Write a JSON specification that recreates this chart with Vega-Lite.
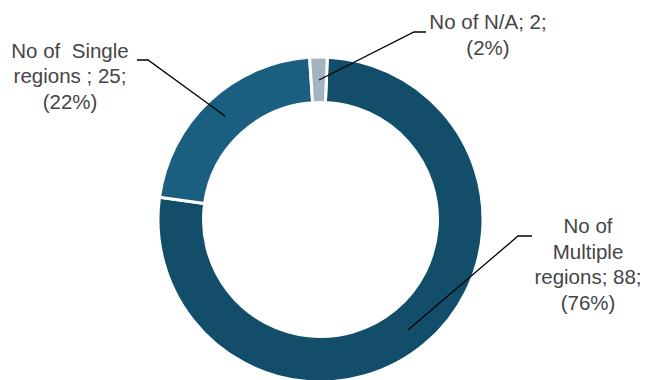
{
  "$schema": "https://vega.github.io/schema/vega-lite/v6.json",
  "width": 646,
  "height": 380,
  "autosize": {"type": "none"},
  "padding": 0,
  "background": "white",
  "config": {"view": {"stroke": null}},
  "layer": [
    {
      "data": {"values": [
        {"category": "Multiple", "value": 88, "rank": 1},
        {"category": "Single", "value": 25, "rank": 2},
        {"category": "N/A", "value": 2, "rank": 3}
      ]},
      "mark": {"type": "arc", "outerRadius": 162.5, "innerRadius": 117, "stroke": "white", "strokeWidth": 3},
      "encoding": {
        "x": {"datum": 0, "type": "quantitative", "scale": {"domain": [-1.9723, 2.0031], "nice": false, "zero": false}, "axis": null},
        "y": {"datum": 0, "type": "quantitative", "scale": {"domain": [-0.9877, 1.3508], "nice": false, "zero": false}, "axis": null},
        "theta": {"field": "value", "type": "quantitative", "stack": true, "scale": {"range": [0.042, 6.3252]}},
        "order": {"field": "rank", "type": "quantitative"},
        "color": {"field": "category", "type": "nominal", "legend": null,
          "scale": {"domain": ["Multiple", "Single", "N/A"], "range": ["#124e69", "#1a5f80", "#a3b3c1"]}}
      }
    },
    {
      "data": {"values": [
        {"category": "Single", "step": 1, "lx": -1.1292, "ly": 0.9815},
        {"category": "Single", "step": 2, "lx": -1.0615, "ly": 0.9815},
        {"category": "Single", "step": 3, "lx": -0.5877, "ly": 0.6369},
        {"category": "N/A", "step": 1, "lx": -0.0092, "ly": 0.8585},
        {"category": "N/A", "step": 2, "lx": 0.5754, "ly": 1.1538},
        {"category": "N/A", "step": 3, "lx": 0.6492, "ly": 1.1538},
        {"category": "Multiple", "step": 1, "lx": 0.5385, "ly": -0.68},
        {"category": "Multiple", "step": 2, "lx": 1.2154, "ly": -0.1015},
        {"category": "Multiple", "step": 3, "lx": 1.3015, "ly": -0.1015}
      ]},
      "mark": {"type": "line", "color": "black", "strokeWidth": 1.3},
      "encoding": {
        "x": {"field": "lx", "type": "quantitative", "scale": {"domain": [-1.9723, 2.0031], "nice": false, "zero": false}, "axis": null},
        "y": {"field": "ly", "type": "quantitative", "scale": {"domain": [-0.9877, 1.3508], "nice": false, "zero": false}, "axis": null},
        "detail": {"field": "category", "type": "nominal"},
        "order": {"field": "step", "type": "quantitative"}
      }
    },
    {
      "data": {"values": [
        {"category": "Single", "label": "No of\u00a0 Single\nregions ; 25;\n(22%)", "tx": -1.5415, "ty": 1.0308},
        {"category": "N/A", "label": "No of N/A; 2;\n(2%)", "tx": 1.0308, "ty": 1.2092},
        {"category": "Multiple", "label": "No of\nMultiple\nregions; 88;\n(76%)", "tx": 1.6462, "ty": -0.0462}
      ]},
      "mark": {"type": "text", "font": "Liberation Sans", "fontSize": 20.5, "color": "#454545", "align": "center", "baseline": "middle", "lineBreak": "\n", "lineHeight": 25.5},
      "encoding": {
        "x": {"field": "tx", "type": "quantitative", "scale": {"domain": [-1.9723, 2.0031], "nice": false, "zero": false}, "axis": null},
        "y": {"field": "ty", "type": "quantitative", "scale": {"domain": [-0.9877, 1.3508], "nice": false, "zero": false}, "axis": null},
        "text": {"field": "label", "type": "nominal"}
      }
    }
  ]
}
